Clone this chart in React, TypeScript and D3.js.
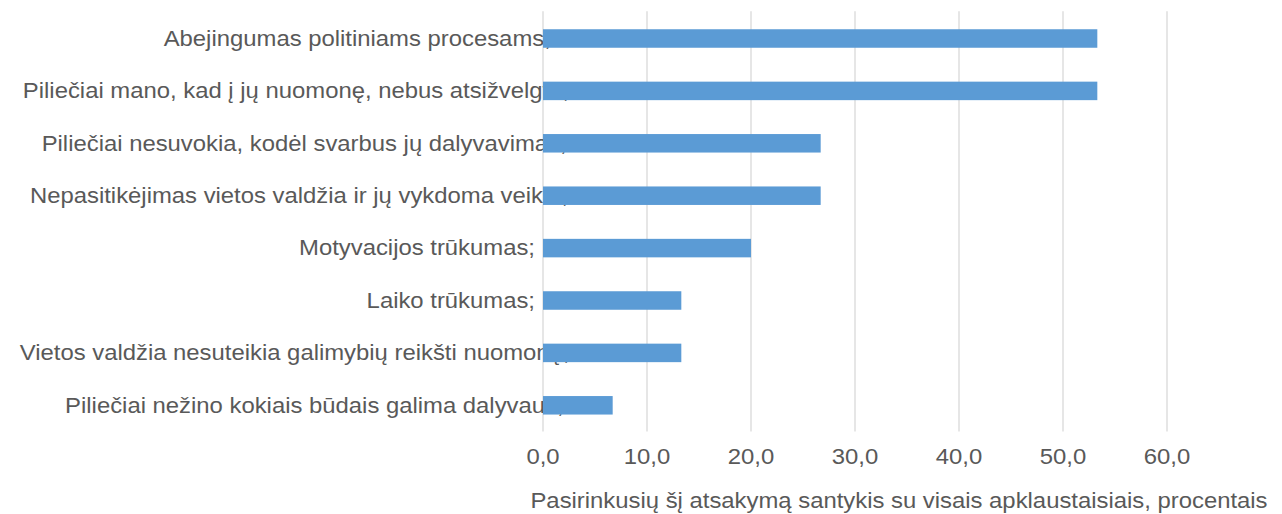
import React from "react";
import * as d3 from "d3";

const categories: string[] = [
  "Abejingumas politiniams procesams;",
  "Piliečiai mano, kad į jų nuomonę, nebus atsižvelgta;",
  "Piliečiai nesuvokia, kodėl svarbus jų dalyvavimas;",
  "Nepasitikėjimas vietos valdžia ir jų vykdoma veikla;",
  "Motyvacijos trūkumas;",
  "Laiko trūkumas;",
  "Vietos valdžia nesuteikia galimybių reikšti nuomonę;",
  "Piliečiai nežino kokiais būdais galima dalyvauti;",
];
const values: number[] = [53.3, 53.3, 26.7, 26.7, 20.0, 13.3, 13.3, 6.7];
const xTicks: number[] = [0, 10, 20, 30, 40, 50, 60];
const axisTitle = "Pasirinkusių šį atsakymą santykis su visais apklaustaisiais, procentais";

const W = 1282;
const H = 514;
const FONT = "'Liberation Sans', Arial, sans-serif";
const FS = 22;
const SX = 1.085;
const TEXT = "#595959";
const BAR = "#5B9BD5";
const GRID = "#D9D9D9";

const plotLeft = 543;
const plotRight = 1167;
const plotTop = 12.3;
const plotBottom = 431.5;

let ctx: CanvasRenderingContext2D | null = null;
function measure(s: string): number {
  if (!ctx) {
    const c = document.createElement("canvas");
    ctx = c.getContext("2d");
  }
  if (!ctx) return s.length * FS * 0.5;
  ctx.font = `${FS}px 'Liberation Sans', Arial, sans-serif`;
  return ctx.measureText(s).width * SX;
}

export default function App() {
  const x = d3.scaleLinear().domain([0, 60]).range([plotLeft, plotRight]);
  const y = d3
    .scaleBand<string>()
    .domain(categories)
    .range([plotTop, plotBottom])
    .paddingInner(0.647)
    .paddingOuter(0.3235);
  const fmt = (v: number) => d3.format(".1f")(v).replace(".", ",");

  return (
    <svg
      width={W}
      height={H}
      style={{ position: "absolute", left: 0, top: 0, background: "#fff" }}
      fontFamily={FONT}
    >
      <rect x={0} y={0} width={W} height={H} fill="#fff" />
      {xTicks.map((t) => (
        <line
          key={"g" + t}
          x1={x(t)}
          x2={x(t)}
          y1={plotTop - 1}
          y2={plotBottom}
          stroke={GRID}
          strokeWidth={1.3}
        />
      ))}
      {categories.map((c) => {
        const w = measure(c);
        const endX = 535 + Math.max(0, (w - 250) * 0.115);
        const cy = (y(c) as number) + y.bandwidth() / 2;
        return (
          <text
            key={"l" + c}
            transform={`translate(${endX},${cy + 7.3}) scale(${SX},1)`}
            textAnchor="end"
            fontSize={FS}
            fill={TEXT}
          >
            {c}
          </text>
        );
      })}
      {categories.map((c, i) => (
        <rect
          key={"b" + c}
          x={x(0)}
          y={y(c) as number}
          width={x(values[i]) - x(0)}
          height={y.bandwidth()}
          fill={BAR}
        />
      ))}
      {xTicks.map((t) => (
        <text
          key={"t" + t}
          transform={`translate(${x(t)},464) scale(${SX},1)`}
          textAnchor="middle"
          fontSize={FS}
          fill={TEXT}
        >
          {fmt(t)}
        </text>
      ))}
      <text
        transform={`translate(899,507.5) scale(${SX},1)`}
        textAnchor="middle"
        fontSize={FS}
        fill={TEXT}
      >
        {axisTitle}
      </text>
    </svg>
  );
}
